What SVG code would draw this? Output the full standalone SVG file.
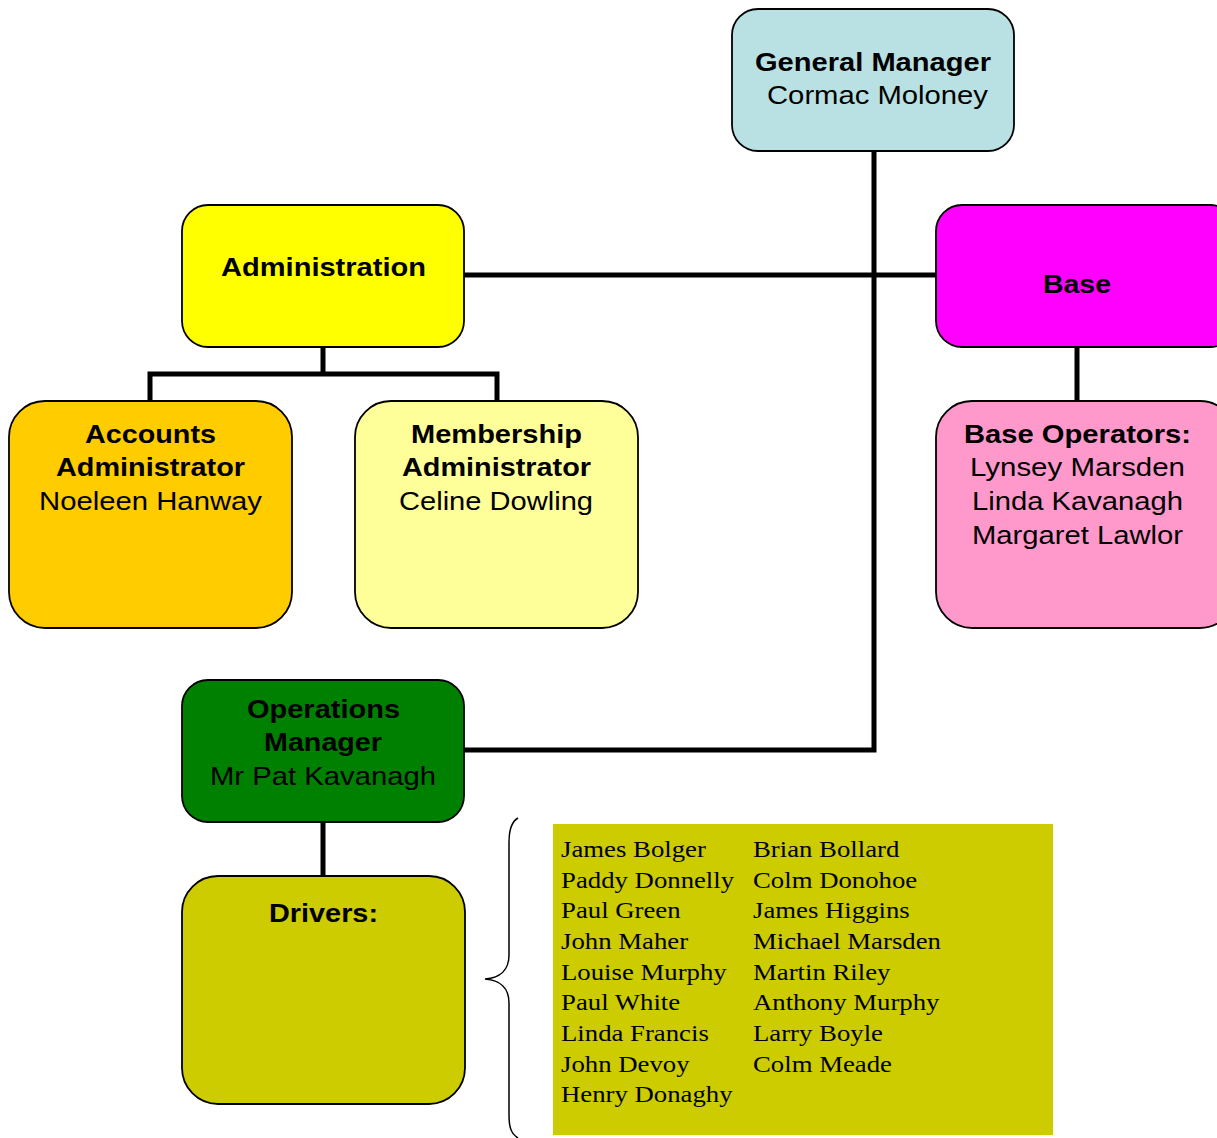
<svg xmlns="http://www.w3.org/2000/svg" width="1217" height="1138" viewBox="0 0 1217 1138">
<style>
.box{stroke:#000;stroke-width:1.8}
.t{font-family:"Liberation Sans",Arial,sans-serif;font-size:26px;text-anchor:middle;fill:#000}
.b{font-weight:bold}
.list{font-family:"Liberation Serif","Times New Roman",serif;font-size:24px;fill:#000}
.conn{stroke:#000;stroke-width:5;fill:none}
</style>
<rect width="1217" height="1138" fill="#fff"/>
<g id="connectors">
<path class="conn" d="M874 151 V750 H464"/>
<path class="conn" d="M464 275 H936"/>
<path class="conn" d="M323 347 V374 M150 401 V374 H497 V401"/>
<path class="conn" d="M1077 347 V401"/>
<path class="conn" d="M323 822 V876"/>
</g>
<g id="general-manager">
<rect class="box" x="732" y="9" width="282" height="142" rx="26" fill="#B9E0E3"/>
<text class="t b" x="873" y="71" textLength="236" lengthAdjust="spacingAndGlyphs">General Manager</text>
<text class="t" x="877.5" y="104" textLength="221" lengthAdjust="spacingAndGlyphs">Cormac Moloney</text>
</g>
<g id="administration">
<rect class="box" x="182" y="205" width="282" height="142" rx="26" fill="#FFFF00"/>
<text class="t b" x="323.5" y="276" textLength="205" lengthAdjust="spacingAndGlyphs">Administration</text>
</g>
<g id="base">
<rect class="box" x="936" y="205" width="300" height="142" rx="26" fill="#FF00FF"/>
<text class="t b" x="1077" y="293" textLength="68" lengthAdjust="spacingAndGlyphs">Base</text>
</g>
<g id="accounts-administrator">
<rect class="box" x="9" y="401" width="283" height="227" rx="36" fill="#FFCC00"/>
<text class="t b" x="150.5" y="443" textLength="131" lengthAdjust="spacingAndGlyphs">Accounts</text>
<text class="t b" x="150.5" y="476" textLength="189" lengthAdjust="spacingAndGlyphs">Administrator</text>
<text class="t" x="150.5" y="510" textLength="223" lengthAdjust="spacingAndGlyphs">Noeleen Hanway</text>
</g>
<g id="membership-administrator">
<rect class="box" x="355" y="401" width="283" height="227" rx="36" fill="#FFFF99"/>
<text class="t b" x="496.5" y="443" textLength="171" lengthAdjust="spacingAndGlyphs">Membership</text>
<text class="t b" x="496.5" y="476" textLength="189" lengthAdjust="spacingAndGlyphs">Administrator</text>
<text class="t" x="496" y="510" textLength="194" lengthAdjust="spacingAndGlyphs">Celine Dowling</text>
</g>
<g id="base-operators">
<rect class="box" x="936" y="401" width="300" height="227" rx="36" fill="#FF99CC"/>
<text class="t b" x="1077.5" y="443" textLength="227" lengthAdjust="spacingAndGlyphs">Base Operators:</text>
<text class="t" x="1077.5" y="476" textLength="215" lengthAdjust="spacingAndGlyphs">Lynsey Marsden</text>
<text class="t" x="1077.5" y="510" textLength="211" lengthAdjust="spacingAndGlyphs">Linda Kavanagh</text>
<text class="t" x="1077.5" y="544" textLength="211" lengthAdjust="spacingAndGlyphs">Margaret Lawlor</text>
</g>
<g id="operations-manager">
<rect class="box" x="182" y="680" width="282" height="142" rx="26" fill="#008000"/>
<text class="t b" x="323.5" y="718" textLength="153" lengthAdjust="spacingAndGlyphs">Operations</text>
<text class="t b" x="323" y="751" textLength="118" lengthAdjust="spacingAndGlyphs">Manager</text>
<text class="t" x="323" y="785" textLength="226" lengthAdjust="spacingAndGlyphs">Mr Pat Kavanagh</text>
</g>
<g id="drivers">
<rect class="box" x="182" y="876" width="283" height="228" rx="36" fill="#CCCC00"/>
<text class="t b" x="323.5" y="922" textLength="109" lengthAdjust="spacingAndGlyphs">Drivers:</text>
</g>
<g id="drivers-list">
<path d="M518 818 C511 822 509 830 509 842 V955 C509 970 500 978 485 979 C500 980 509 988 509 1003 V1115 C509 1127 511 1134 518 1138" fill="none" stroke="#000" stroke-width="1.5"/>
<rect x="553" y="824" width="500" height="311" fill="#CCCC00"/>
<g class="list" transform="matrix(1.115,0,0,1,-64.5,0)">
<text x="561" y="857">James Bolger</text>
<text x="561" y="888">Paddy Donnelly</text>
<text x="561" y="918">Paul Green</text>
<text x="561" y="949">John Maher</text>
<text x="561" y="980">Louise Murphy</text>
<text x="561" y="1010">Paul White</text>
<text x="561" y="1041">Linda Francis</text>
<text x="561" y="1072">John Devoy</text>
<text x="561" y="1102">Henry Donaghy</text>
</g>
<g class="list" transform="matrix(1.115,0,0,1,-86.6,0)">
<text x="753" y="857">Brian Bollard</text>
<text x="753" y="888">Colm Donohoe</text>
<text x="753" y="918">James Higgins</text>
<text x="753" y="949">Michael Marsden</text>
<text x="753" y="980">Martin Riley</text>
<text x="753" y="1010">Anthony Murphy</text>
<text x="753" y="1041">Larry Boyle</text>
<text x="753" y="1072">Colm Meade</text>
</g>
</g>
</svg>
